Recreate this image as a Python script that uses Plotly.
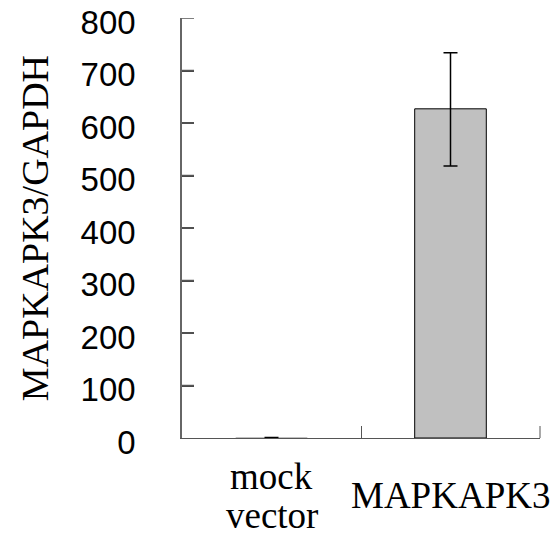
import plotly.graph_objects as go

categories = ["mock vector", "MAPKAPK3"]
label_lines = [["mock", "vector"], ["MAPKAPK3"]]
values = [1, 627]
err_plus = [0, 107]
err_minus = [0, 109]
y_ticks = [0, 100, 200, 300, 400, 500, 600, 700, 800]

fig = go.Figure()
fig.add_trace(go.Bar(
    x=categories, y=values,
    marker=dict(color="#C0C0C0", line=dict(color="#000000", width=[0, 1])),
    error_y=dict(type="data", symmetric=False, array=err_plus, arrayminus=err_minus,
                 color="#000000", thickness=1.5, width=7),
    width=0.4,
))

line_gap = 0.095
for c, lines in zip(categories, label_lines):
    n = len(lines)
    for i, t in enumerate(lines):
        yy = -0.138 + ((n - 1) / 2 - i) * line_gap
        fig.add_annotation(x=c, xref="x", y=yy, yref="paper", text=t,
                           showarrow=False, xanchor="center", yanchor="middle",
                           font=dict(family="Liberation Serif", size=37, color="#000"))

fig.add_annotation(x=-0.41, xref="paper", y=0.5, yref="paper", text="MAPKAPK3/GAPDH",
                   textangle=-90, showarrow=False, xanchor="center", yanchor="middle",
                   font=dict(family="Liberation Serif", size=38, color="#000"))

# inside tick marks on the value axis (12 px long, pointing into the plot)
tick_frac_x = 12 / 358
for v in y_ticks[1:]:
    fig.add_shape(type="line", xref="x domain", yref="y", x0=0, x1=tick_frac_x,
                  y0=v, y1=v, line=dict(color="#555555", width=1.5), layer="above")
# right boundary tick on category axis
fig.add_shape(type="line", xref="x domain", yref="y domain", x0=1, x1=1,
              y0=0, y1=12 / 420, line=dict(color="#555555", width=1), layer="above")

fig.update_layout(
    width=560, height=537,
    margin=dict(l=182, r=20, t=18, b=99, autoexpand=False),
    paper_bgcolor="white", plot_bgcolor="white",
    showlegend=False,
    xaxis=dict(range=[-0.5, 1.5], showline=True, linecolor="#555555", linewidth=1,
               automargin=False, ticks="inside", ticklen=12, tickwidth=1,
               tickcolor="#555555", tickson="boundaries", showticklabels=False,
               showgrid=False, zeroline=False),
    yaxis=dict(range=[0, 800], tickvals=y_ticks,
               showline=True, linecolor="#666666",
               linewidth=1.5, ticks="inside", ticklen=12, tickwidth=1.5,
               tickcolor="#444444", showgrid=False, zeroline=False, automargin=False,
               ticklabelstandoff=38, ticklabeloverflow="allow", ticklabelshift=4,
               tickfont=dict(family="Liberation Sans", size=33, color="#000")),
)

fig.write_html("out.html")
